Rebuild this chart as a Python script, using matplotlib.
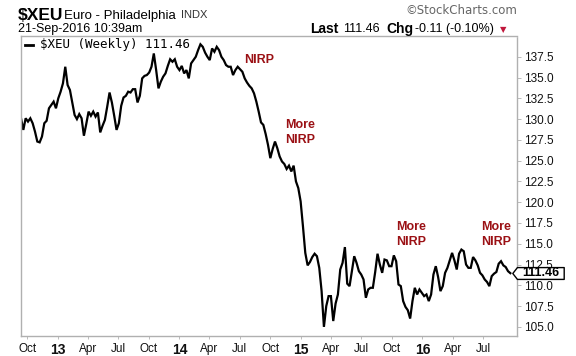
import matplotlib
matplotlib.use("Agg")
import matplotlib.pyplot as plt
import matplotlib.dates as mdates
from matplotlib.path import Path
import numpy as np
import pandas as pd

# weekly closes of $XEU (Sep 2012 - Sep 2016)
xeu_weekly = [
    130.1, 128.7, 130.1, 129.7, 130.1, 129.5, 128.5, 127.3, 127.2, 127.9,
    129.5, 129.8, 131.3, 131.7, 132.1, 131.3, 132.5, 133.3, 134.3, 136.3,
    134.1, 133.5, 132.0, 130.5, 130.0, 130.6, 130.1, 128.0, 129.4, 130.9,
    130.4, 130.9, 130.3, 130.8, 128.4, 129.2, 129.9, 131.5, 133.2, 132.0,
    130.4, 128.7, 129.5, 131.6, 132.6, 132.8, 133.3, 133.2, 133.6, 133.6,
    132.0, 132.8, 134.9, 135.2, 135.3, 135.6, 136.3, 137.9, 135.9, 133.7,
    134.5, 135.1, 135.5, 136.4, 137.2, 136.9, 137.2, 136.3, 135.9, 136.4,
    135.5, 135.9, 134.9, 136.7, 137.1, 137.5, 138.3, 139.0, 138.7, 138.0,
    137.5, 137.1, 138.5, 138.1, 138.7, 138.3, 137.5, 137.1, 136.5, 136.3,
    136.3, 135.3, 135.9, 136.3, 136.0, 135.7, 134.9, 134.4, 134.0, 133.7,
    133.1, 132.1, 130.9, 129.6, 129.3, 128.2, 126.9, 125.3, 126.4, 127.3,
    126.5, 125.5, 124.9, 124.6, 124.0, 124.4, 123.7, 124.4, 122.5, 121.7,
    120.1, 117.1, 113.9, 112.4, 112.8, 113.4, 113.8, 113.5, 112.1, 109.3,
    105.0, 107.5, 108.7, 108.7, 105.7, 107.8, 108.9, 111.9, 112.7, 114.6,
    110.2, 109.9, 111.7, 113.5, 112.7, 111.7, 111.3, 110.7, 108.5, 109.5,
    109.7, 109.7, 111.6, 113.8, 112.5, 111.5, 113.1, 113.0, 112.3, 112.3,
    113.6, 112.9, 110.1, 109.9, 108.1, 107.4, 107.0, 106.0, 108.1, 109.7,
    108.9, 109.5, 109.1, 108.7, 108.9, 108.1, 108.9, 111.3, 112.3, 111.0,
    109.3, 109.9, 111.5, 112.1, 113.0, 113.9, 113.0, 111.9, 113.8, 114.3,
    114.1, 112.5, 112.1, 112.1, 113.4, 113.0, 112.4, 111.5, 111.2, 110.7,
    110.4, 109.9, 111.1, 111.4, 111.6, 112.6, 112.9, 112.4, 112.2, 111.7,
    111.46,
]
dates = pd.date_range("2012-09-12", periods=len(xeu_weekly), freq="7D")

note_texts = ["NIRP", "More\nNIRP", "More\nNIRP", "More\nNIRP"]
note_dates = ["2014-07-14", "2014-11-14", "2015-10-13", "2016-06-25"]
note_values = [137.1, 128.4, 116.1, 116.1]

y_ticks = [105.0, 107.5, 110.0, 112.5, 115.0, 117.5, 120.0, 122.5, 125.0,
           127.5, 130.0, 132.5, 135.0, 137.5]
x_tick_dates = pd.date_range("2012-10-01", "2016-07-01", freq="QS")
x_tick_labels = [d.strftime("%y") if d.month == 1 else d.strftime("%b")
                 for d in x_tick_dates]

last = xeu_weekly[-1]
RED = "#9b1115"
GRID = "#b0b0b0"

plt.rcParams["font.family"] = ["Liberation Sans", "DejaVu Sans"]

fig = plt.figure(figsize=(5.76, 3.56), dpi=100)
ax = fig.add_axes([21 / 576, 1 - 336 / 356, 496 / 576, 300 / 356])

ax.plot(dates, xeu_weekly, color="black", lw=1.6, solid_joinstyle="miter")

ax.set_xlim(pd.Timestamp("2012-09-12"), pd.Timestamp("2016-10-11"))
ax.set_ylim(103.9, 140.0)

ax.yaxis.tick_right()
ax.set_yticks(y_ticks)
ax.set_yticklabels([f"{v:.1f}" for v in y_ticks])
ax.tick_params(axis="y", length=3, width=0.6, color=GRID, pad=2,
               labelsize=8.5, labelcolor="#111111")

ax.set_xticks(x_tick_dates)
ax.set_xticklabels(x_tick_labels)
ax.tick_params(axis="x", length=2, width=0.6, color=GRID, pad=3,
               labelsize=8.5, labelcolor="#111111")
for lab in ax.get_xticklabels():
    if lab.get_text().isdigit():
        lab.set_fontweight("bold")
        lab.set_fontsize(10)

for side in ["left", "top", "bottom"]:
    ax.spines[side].set_color(GRID)
    ax.spines[side].set_linewidth(1.0)
ax.spines["right"].set_color(GRID)
ax.spines["right"].set_linestyle((0, (1, 1)))
ax.spines["right"].set_linewidth(1.0)

# annotations
for txt, d, v in zip(note_texts, note_dates, note_values):
    ax.text(pd.Timestamp(d), v, txt, color=RED, fontsize=9, fontweight="bold",
            ha="left", va="center", linespacing=1.4)

# legend-like label inside the plot
ax.plot([0.008, 0.024], [0.971, 0.971], transform=ax.transAxes,
        color="black", lw=2)
ax.text(0.038, 0.971, rf"\$XEU (Weekly) {last:.2f}", transform=ax.transAxes,
        family="DejaVu Sans Mono", fontsize=9, va="center", ha="left")

# last value tag on the price axis
tag = Path([(-1.0, 0.0), (-0.82, 0.23), (1.0, 0.23), (1.0, -0.23),
            (-0.82, -0.23), (-1.0, 0.0)],
           [Path.MOVETO, Path.LINETO, Path.LINETO, Path.LINETO,
            Path.LINETO, Path.CLOSEPOLY])
trans = ax.get_yaxis_transform()
ax.plot([1.043], [last], marker=tag, markersize=37, markerfacecolor="white",
        markeredgecolor="black", markeredgewidth=1.0, transform=trans,
        clip_on=False, zorder=5)
ax.text(1.049, last, f"{last:.2f}", transform=trans, fontsize=9,
        fontweight="bold", ha="center", va="center", zorder=6)

# header
def fx(px):
    return px / 576

def fy(py):
    return 1 - py / 356

fig.text(fx(18), fy(15), r"\$XEU", fontsize=12.5, fontweight="bold",
         va="center", ha="left")
fig.text(fx(64), fy(15.5), "Euro - Philadelphia", fontsize=9.5,
         va="center", ha="left")
fig.text(fx(181), fy(15.5), "INDX", fontsize=8, color="#333333",
         va="center", ha="left")
fig.text(fx(18), fy(29), "21-Sep-2016 10:39am", fontsize=9,
         va="center", ha="left")
fig.text(fx(517), fy(11), "\u00a9StockCharts.com", fontsize=8.5,
         color="#666666", family="DejaVu Sans", va="center", ha="right")
fig.text(fx(310), fy(29), "Last", fontsize=10, fontweight="bold",
         va="center", ha="left")
fig.text(fx(343), fy(29), "111.46", fontsize=9, va="center", ha="left")
fig.text(fx(386), fy(29), "Chg", fontsize=10, fontweight="bold",
         va="center", ha="left")
fig.text(fx(415), fy(29), "-0.11 (-0.10%)", fontsize=9, va="center",
         ha="left")
fig.text(fx(500), fy(29.5), "\u25bc", fontsize=6, color="#c0163b",
         family="DejaVu Sans", va="center", ha="left")

fig.savefig("out.png", dpi=100)
